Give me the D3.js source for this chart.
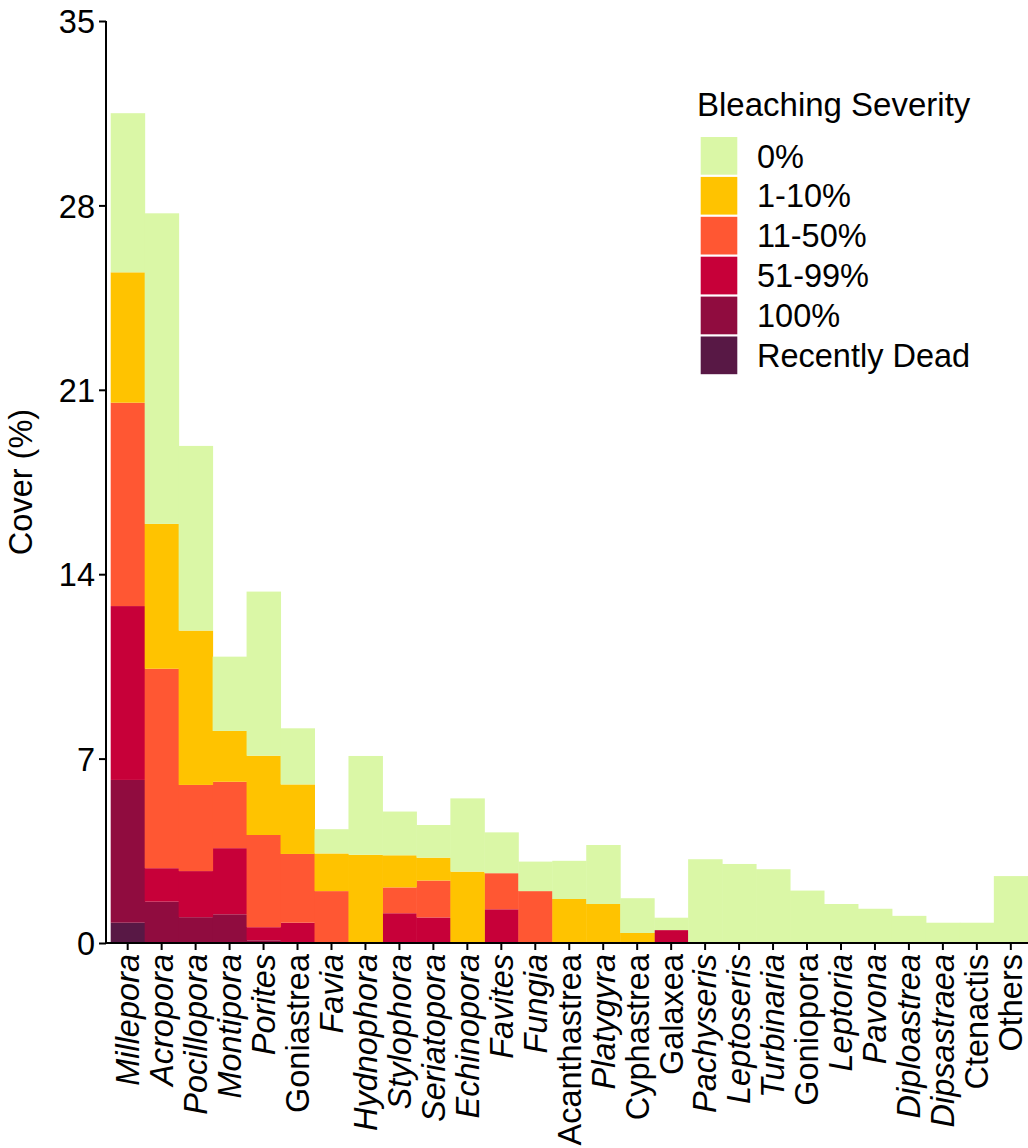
<!DOCTYPE html>
<html>
<head>
<meta charset="utf-8">
<script src="https://cdn.jsdelivr.net/npm/d3@7"></script>
<style>
  html, body { margin: 0; padding: 0; background: #ffffff; }
  svg { display: block; font-family: "Liberation Sans", Arial, sans-serif; }
</style>
</head>
<body>
<svg id="chart" width="1028" height="1148"></svg>
<script>
// Coral genera, ordered by total cover
const genera = ["Millepora", "Acropora", "Pocillopora", "Montipora", "Porites", "Goniastrea",
  "Favia", "Hydnophora", "Stylophora", "Seriatopora", "Echinopora", "Favites", "Fungia",
  "Acanthastrea", "Platygyra", "Cyphastrea", "Galaxea", "Pachyseris", "Leptoseris",
  "Turbinaria", "Goniopora", "Leptoria", "Pavona", "Diploastrea", "Dipsastraea",
  "Ctenactis", "Others"];

// Labels set upright rather than in italics
const uprightLabels = ["Goniastrea", "Acanthastrea", "Cyphastrea", "Galaxea", "Goniopora",
  "Ctenactis", "Others"];

// Cover (%) of each genus in each bleaching-severity class
const sev0 = [6.04, 11.79, 7.01, 2.82, 6.23, 2.13, 0.92, 3.75, 1.66, 1.24, 2.78, 1.55, 1.12,
  1.45, 2.24, 1.32, 0.47, 3.18, 3.00, 2.80, 1.99, 1.48, 1.30, 1.03, 0.77, 0.77, 2.54];
const sev1to10 = [4.95, 5.50, 5.86, 1.93, 3.01, 2.64, 1.43, 3.35, 1.22, 0.87, 2.71, 0, 0,
  1.67, 1.48, 0.38, 0, 0, 0, 0, 0, 0, 0, 0, 0, 0, 0];
const sev11to50 = [7.72, 7.57, 3.27, 2.52, 3.50, 2.61, 1.97, 0, 0.98, 1.40, 0, 1.37, 1.97,
  0, 0, 0, 0, 0, 0, 0, 0, 0, 0, 0, 0, 0, 0];
const sev51to99 = [6.60, 1.27, 1.75, 2.51, 0.50, 0.77, 0, 0, 1.13, 0.97, 0, 1.28, 0,
  0, 0, 0, 0.49, 0, 0, 0, 0, 0, 0, 0, 0, 0, 0];
const sev100 = [5.42, 1.57, 0.98, 1.09, 0.10, 0, 0, 0, 0, 0, 0, 0, 0,
  0, 0, 0, 0, 0, 0, 0, 0, 0, 0, 0, 0, 0, 0];
const sevDead = [0.77, 0, 0, 0, 0, 0, 0, 0, 0, 0, 0, 0, 0,
  0, 0, 0, 0, 0, 0, 0, 0, 0, 0, 0, 0, 0, 0];

// Severity classes in legend order, with their fill colours
const severityLabels = ["0%", "1-10%", "11-50%", "51-99%", "100%", "Recently Dead"];
const severityColors = ["#DAF7A6", "#FFC300", "#FF5733", "#C70039", "#900C3F", "#581845"];
const severityValues = [sev0, sev1to10, sev11to50, sev51to99, sev100, sevDead];

const yTicks = [0, 7, 14, 21, 28, 35];

// Build rows for d3.stack
const rows = genera.map((g, i) => {
  const r = { genus: g };
  severityLabels.forEach((s, k) => { r[s] = severityValues[k][i]; });
  return r;
});

const svg = d3.select("#chart");
const fontSize = 32.5;

const x = d3.scaleBand().domain(genera).range([110.7, 1027.8]).padding(0);
const y = d3.scaleLinear().domain([0, 35]).range([943, 21]);
const color = d3.scaleOrdinal().domain(severityLabels).range(severityColors);

// Stack from "Recently Dead" at the bottom up to "0%" on top
const stackKeys = severityLabels.slice().reverse();
const series = d3.stack().keys(stackKeys)(rows);

svg.append("g")
  .selectAll("g")
  .data(series)
  .join("g")
  .attr("fill", d => color(d.key))
  .selectAll("rect")
  .data(d => d)
  .join("rect")
  .attr("x", d => x(d.data.genus))
  .attr("width", x.bandwidth() + 0.5)
  .attr("y", d => y(d[1]))
  .attr("height", d => Math.max(0, y(d[0]) - y(d[1])));

// Y axis
const yAxis = svg.append("g")
  .attr("transform", "translate(106,0)")
  .call(d3.axisLeft(y).tickValues(yTicks).tickSize(7).tickPadding(4));
yAxis.select(".domain").attr("stroke", "#000").attr("stroke-width", 2)
  .attr("d", `M0,${y(35)}V${y(0) + 1}`);
yAxis.selectAll(".tick line").attr("stroke", "#000").attr("stroke-width", 2);
yAxis.selectAll(".tick text")
  .attr("fill", "#000")
  .style("font-size", fontSize + "px")
  .attr("dy", "0.36em");

// X axis
const xAxis = svg.append("g")
  .attr("transform", "translate(0,943)")
  .call(d3.axisBottom(x).tickSize(7).tickPadding(4));
xAxis.select(".domain").attr("stroke", "#000").attr("stroke-width", 2)
  .attr("d", "M105,0H1028");
xAxis.selectAll(".tick line").attr("stroke", "#000").attr("stroke-width", 2);
xAxis.selectAll(".tick text")
  .attr("fill", "#000")
  .style("font-size", fontSize + "px")
  .style("font-style", d => uprightLabels.includes(d) ? "normal" : "italic")
  .attr("text-anchor", "end")
  .attr("transform", "rotate(-90)")
  .attr("x", -11)
  .attr("y", 0)
  .attr("dy", "0.35em");

// Y axis title
svg.append("text")
  .attr("transform", `translate(32,${(y(0) + y(35)) / 2}) rotate(-90)`)
  .attr("text-anchor", "middle")
  .style("font-size", fontSize + "px")
  .attr("fill", "#000")
  .text("Cover (%)");

// Legend
const legend = svg.append("g").attr("transform", "translate(700,0)");
legend.append("text")
  .attr("x", -3)
  .attr("y", 116)
  .style("font-size", "33px")
  .attr("fill", "#000")
  .text("Bleaching Severity");

const keyTop = 137;
const keyStep = 39.9;
const keyItems = legend.selectAll("g.key")
  .data(severityLabels)
  .join("g")
  .attr("class", "key")
  .attr("transform", (d, i) => `translate(0,${keyTop + i * keyStep})`);
keyItems.append("rect")
  .attr("x", 0.7)
  .attr("y", 0)
  .attr("width", 36.6)
  .attr("height", keyStep - 2.2)
  .attr("fill", d => color(d));
keyItems.append("text")
  .attr("x", 57)
  .attr("y", (keyStep - 2.2) / 2)
  .attr("dy", "0.36em")
  .style("font-size", fontSize + "px")
  .attr("fill", "#000")
  .text(d => d);
</script>
</body>
</html>
